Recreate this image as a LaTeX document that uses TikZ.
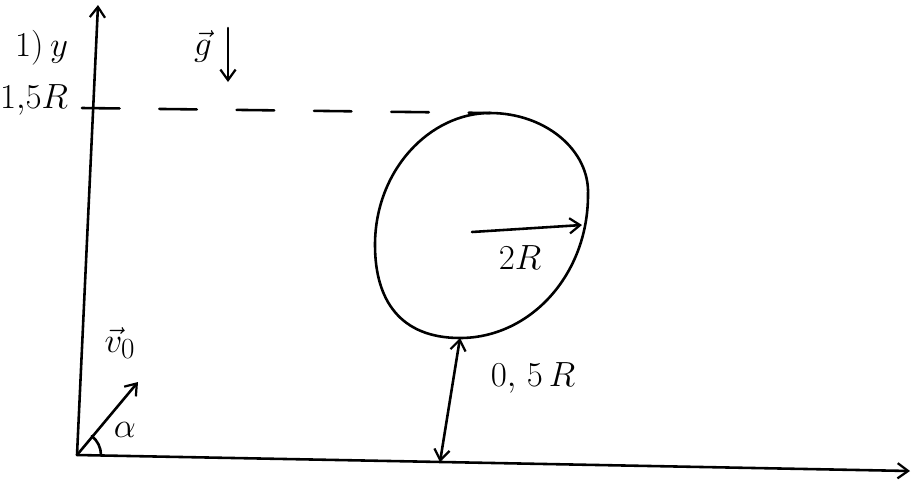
\documentclass[tikz,border=0pt]{standalone}
\usetikzlibrary{arrows.meta}
\tikzset{
  pen/.style={line width=2.2pt,line cap=round,line join=round},
  arr/.style={pen,-{Straight Barb[length=9pt,width=13pt,line width=1.9pt]}},
  dblarr/.style={pen,{Straight Barb[length=9pt,width=13pt,line width=1.9pt]}-{Straight Barb[length=9pt,width=13pt,line width=1.9pt]}},
  lbl/.style={font=\Huge,inner sep=1pt,scale=1.2}
}
\begin{document}
\begin{tikzpicture}[x=0.03cm,y=-0.03cm]
\useasboundingbox (0,0) rectangle (915,495);
\coordinate (O) at (77,455);
\coordinate (Ytop) at (98,5);
\coordinate (Xend) at (910,471);
\coordinate (Ytick) at (82,108);
\coordinate (Ctop) at (490,113);
\coordinate (Cright) at (588,195);
\coordinate (Cbot) at (460,338);
\coordinate (Cleft) at (375,245);
\coordinate (Cctr) at (472,232);
\coordinate (Crim) at (582,225);
\coordinate (Base) at (440,462);
\coordinate (Vend) at (138,382);
\coordinate (Gtop) at (228,28);
\coordinate (Gbot) at (228,82);
\draw[arr] (O) -- (Ytop);
\draw[arr] (O) -- (Xend);
\draw[pen,dash pattern=on 32 off 34] (Ytick) -- (Ctop);
\draw[pen] (Ctop) .. controls (545,113) and (590,150) .. (Cright)
  .. controls (588,275) and (530,338) .. (Cbot)
  .. controls (400,338) and (375,300) .. (Cleft)
  .. controls (375,170) and (430,113) .. (Ctop) -- cycle;
\draw[arr] (Cctr) -- (Crim);
\draw[dblarr] (Base) -- (Cbot);
\draw[arr] (O) -- (Vend);
\draw[arr] (Gtop) -- (Gbot);
\draw[pen] (O) ++(24,0) arc[start angle=0,end angle=-52,radius=24];
\node[lbl] (ylab) at (42,48) {1)$\,y$};
\node[lbl] (hlab) at (34,100) {$1{,}5R$};
\node[lbl] (glab) at (203,46) {$\vec g$};
\node[lbl] (rlab) at (520,258) {$2R$};
\node[lbl] (dlab) at (533,378) {$0{,}\ 5\,R$};
\node[lbl] (vlab) at (120,343) {$\vec v_0$};
\node[lbl] (alab) at (125,430) {$\alpha$};
\end{tikzpicture}
\end{document}
